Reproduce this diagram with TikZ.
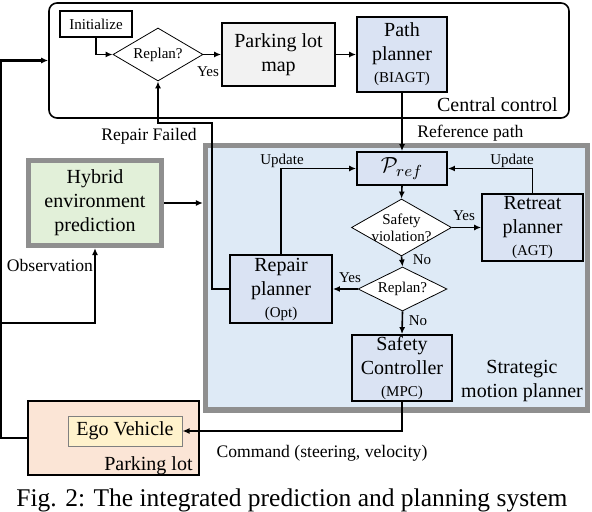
\documentclass[tikz,border=0pt]{standalone}
\usepackage{fontspec}
\setmainfont{Liberation Serif}
\usepackage{amsmath}
\usetikzlibrary{shapes.geometric,arrows.meta}
\definecolor{mapgray}{HTML}{F2F2F2}
\definecolor{boxblue}{HTML}{DAE3F3}
\definecolor{smpblue}{HTML}{DEEAF6}
\definecolor{hybgreen}{HTML}{E2F0D9}
\definecolor{lotpeach}{HTML}{FBE5D6}
\definecolor{egoyellow}{HTML}{FFF2CC}
\definecolor{framegray}{HTML}{8F8F8F}
\newcommand{\tinytxt}{\fontsize{7.5}{8.5}\selectfont}
\newcommand{\smalltxt}{\fontsize{8.8}{10}\selectfont}
\newcommand{\boxtxt}{\fontsize{10}{12}\selectfont}

\begin{document}
\begin{tikzpicture}[x=0.5pt,y=-0.5pt,
  box/.style={draw,line width=0.9pt,fill=boxblue,align=center,inner sep=0pt,font=\boxtxt},
  decide/.style={diamond,draw,line width=0.4pt,fill=white,inner sep=0pt},
  frame/.style={draw=framegray,line width=2.6pt,inner sep=0pt},
  conn/.style={line width=0.8pt,-{Latex[length=3.5pt,width=3pt]}},
  lbl/.style={font=\smalltxt,inner sep=0pt},
  tag/.style={font=\tinytxt,inner sep=0pt,align=center}]
  \useasboundingbox (0,0) rectangle (592,512);
  \clip (0,0) rectangle (592,512);
  \node[draw,line width=0.8pt,rounded corners=4pt,minimum width=260pt,minimum height=57.5pt] (cc) at (309,60.5) {};
  \node[frame,fill=smpblue,minimum width=191pt,minimum height=132.25pt] (smp) at (396.5,277.75) {};
  \node[frame,fill=hybgreen,align=center,font=\boxtxt,minimum width=66.5pt,minimum height=42.5pt] (hyb) at (95,203) {Hybrid\\environment\\prediction};
  \node[draw,line width=0.8pt,fill=lotpeach,minimum width=85.5pt,minimum height=37pt] (lot) at (113.5,438) {};
  \node[draw=gray,line width=0.5pt,fill=egoyellow,font=\boxtxt,minimum width=57pt,minimum height=15pt,inner sep=0pt] (ego) at (125,431) {Ego Vehicle};

  \node[draw,line width=0.6pt,fill=white,font=\tinytxt,minimum width=36pt,minimum height=13pt,inner sep=0pt] (init) at (96,24) {Initialize};
  \node[decide,minimum width=45pt,minimum height=26.5pt,label={[tag]center:Replan?}] (rp1) at (158,54.5) {};
  \node[box,fill=mapgray,minimum width=56.5pt,minimum height=31.5pt] (map) at (278.5,54.5) {Parking lot\\map};
  \node[box,minimum width=45pt,minimum height=37.5pt] (pp) at (402,54.5) {Path\\planner\\[-1pt]{\tinytxt(BIAGT)}};

  \node[box,minimum width=45pt,minimum height=16.5pt,font=\fontsize{11}{12}\selectfont] (pref) at (402,168.5) {$\mathcal{P}_{ref}$};
  \node[decide,minimum width=50pt,minimum height=28.5pt,label={[tag]center:Safety\\violation?}] (sv) at (401.5,227.5) {};
  \node[box,minimum width=50.5pt,minimum height=33.5pt] (retreat) at (532.5,227.5) {Retreat\\planner\\[-1pt]{\tinytxt(AGT)}};
  \node[decide,minimum width=44.5pt,minimum height=22pt,label={[tag]center:Replan?}] (rp2) at (402.5,289) {};
  \node[box,minimum width=51pt,minimum height=34pt] (repair) at (281,289) {Repair\\planner\\[-1pt]{\tinytxt(Opt)}};
  \node[box,minimum width=50pt,minimum height=33pt] (sc) at (402,368) {Safety\\Controller\\[-1pt]{\tinytxt(MPC)}};

  \coordinate (rfbend) at (212,123);
  \coordinate (obs) at (1.5,323);
  \draw[conn] (init.south) |- (rp1.west);
  \draw[conn] (rp1.east) -- (map.west);
  \draw[conn] (map.east) -- (pp.west);
  \draw[conn] (pp.south) -- (pref.north);
  \draw[conn] (pref.south) -- (sv.north);
  \draw[conn] (sv.east) -- (retreat.west);
  \draw[conn] (retreat.north) |- (pref.east);
  \draw[conn] (sv.south) -- (rp2.north);
  \draw[conn] (rp2.west) -- (repair.east);
  \draw[conn] (repair.north) |- (pref.west);
  \draw[conn] (rp2.south) -- (sc.north);
  \draw[conn] (repair.west) -| (rfbend) -| (rp1.south);
  \draw[conn] (hyb.east) -- (hyb.east -| smp.west);
  \draw[conn] (sc.south) |- (ego.east);
  \draw[conn] (obs) -| (hyb.south);
  \draw[line width=1.2pt,-{Latex[length=3.5pt,width=3pt]}] (lot.west) -- ++(-26.5,0) |- (cc.west);

  \node[tag] at (208,72) {Yes};
  \node[tag] at (464,216) {Yes};
  \node[tag] at (350,278) {Yes};
  \node[tag] at (422,260) {No};
  \node[tag] at (418,321) {No};
  \node[tag,anchor=base] at (282,165) {Update};
  \node[tag,anchor=base] at (512,165) {Update};
  \node[lbl,anchor=base east] at (197,141) {Repair Failed};
  \node[lbl,anchor=base west] at (417,138) {Reference path};
  \node[lbl,anchor=base] at (50,271) {Observation};
  \node[lbl,anchor=base] at (322,457) {Command (steering, velocity)};
  \node[font=\boxtxt,inner sep=0pt,anchor=base east] at (558,112) {Central control};
  \node[font=\boxtxt,inner sep=0pt,anchor=base east] at (193,470) {Parking lot};
  \node[font=\boxtxt,inner sep=0pt,align=center] at (522,381) {Strategic\\motion planner};
  \node[font=\fontsize{12.75}{14}\selectfont,inner sep=0pt,anchor=base west] at (16,506) {Fig. 2: The integrated prediction and planning system};
\end{tikzpicture}
\end{document}
